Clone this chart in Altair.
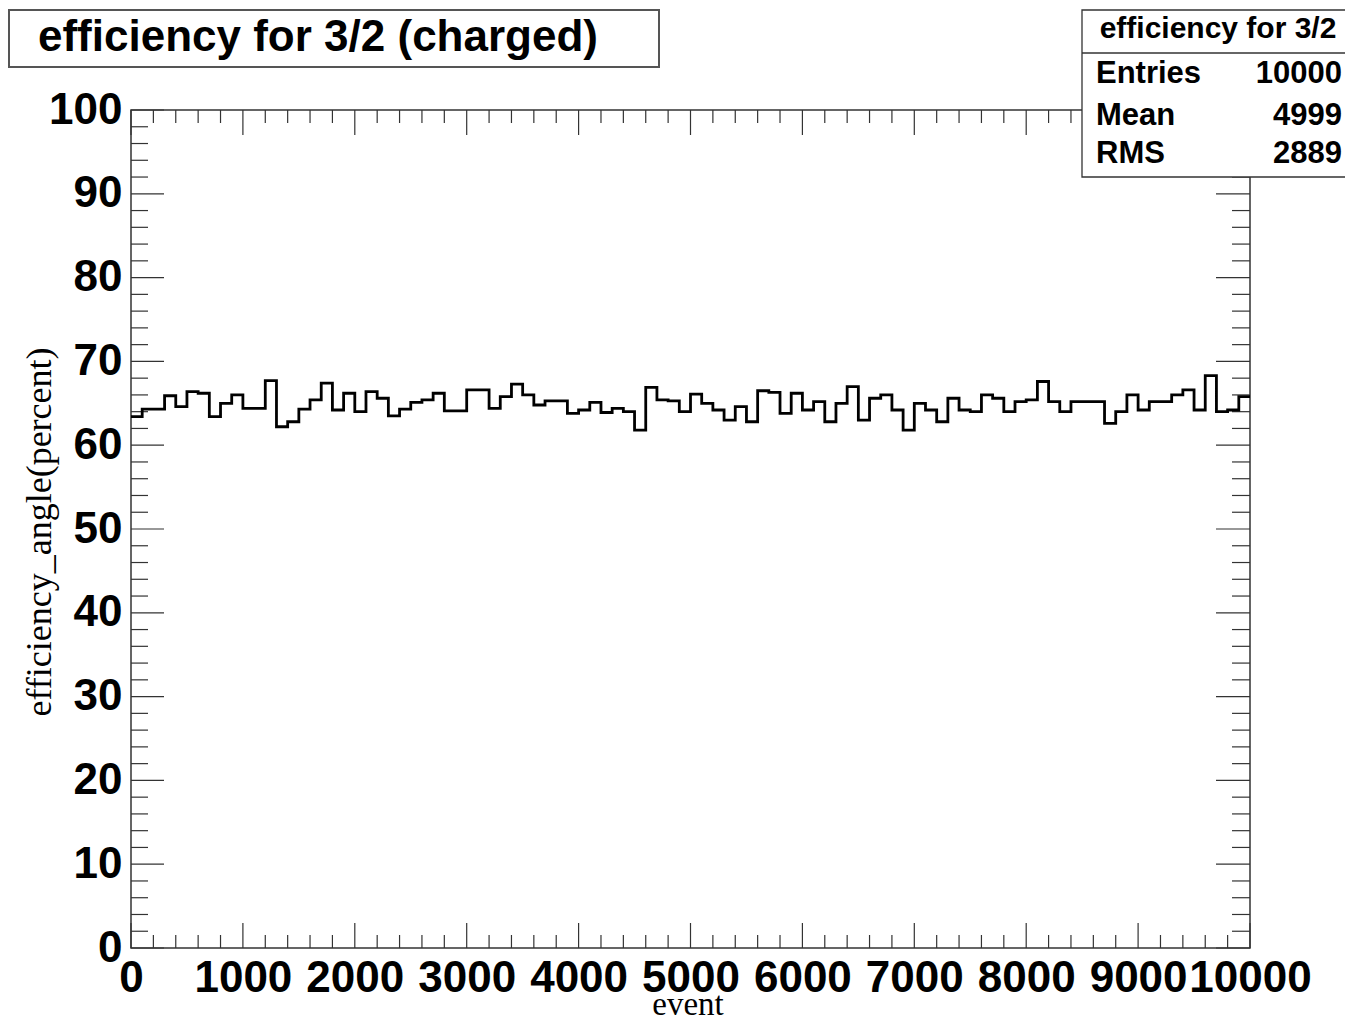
import altair as alt
import pandas as pd

# ---------------- data ----------------
bin_edges = list(range(0, 10001, 100))  # 100 bins of 100 events
efficiency = [
    63.4, 64.3, 64.3, 65.9, 64.6, 66.4, 66.2, 63.4, 65.0, 66.0,
    64.4, 64.4, 67.7, 62.2, 62.8, 64.3, 65.4, 67.4, 64.2, 66.2,
    64.0, 66.4, 65.6, 63.5, 64.3, 65.1, 65.4, 66.2, 64.1, 64.1,
    66.6, 66.6, 64.4, 65.8, 67.3, 66.0, 64.8, 65.3, 65.3, 63.8,
    64.2, 65.1, 63.9, 64.4, 64.0, 61.8, 66.9, 65.4, 65.3, 64.0,
    66.1, 65.0, 64.2, 63.0, 64.6, 62.8, 66.5, 66.3, 63.8, 66.2,
    64.2, 65.2, 62.8, 65.0, 67.0, 63.0, 65.6, 66.0, 64.2, 61.8,
    65.0, 64.2, 62.8, 65.6, 64.2, 64.0, 66.0, 65.6, 64.0, 65.2,
    65.4, 67.6, 65.2, 64.0, 65.2, 65.2, 65.2, 62.6, 64.0, 66.0,
    64.2, 65.2, 65.2, 66.0, 66.6, 64.2, 68.3, 64.0, 64.2, 65.8,
]
y_major = list(range(0, 101, 10))
y_minor = [v for v in range(0, 101, 2) if v % 10]
x_major = list(range(0, 10001, 1000))
x_minor = [v for v in range(0, 10001, 200) if v % 1000]

title_text = "efficiency for 3/2 (charged)"
stats_header = "efficiency for 3/2"
stats_names = ["Entries", "Mean", "RMS"]
stats_values = ["10000", "4999", "2889"]
x_title = "event"
y_title = "efficiency_angle(percent)"

# ---------------- layout ----------------
W, H = 1119, 838
FRAME = "#333333"
SANS = "Liberation Sans"
SERIF = "Liberation Serif"

XS = alt.Scale(domain=[0, 10000], nice=False, zero=False)
YS = alt.Scale(domain=[0, 100], nice=False, zero=False)

x_axis = alt.Axis(values=x_major, format="d", labelFont=SANS, labelFontWeight="bold",
                  labelFontSize=44, labelColor="black", labelPadding=8,
                  labelOverlap=False, labelFlush=False, labelBound=False,
                  ticks=False, domain=False, grid=False, title=None)
y_axis = alt.Axis(values=y_major, format="d", labelFont=SANS, labelFontWeight="bold",
                  labelFontSize=44, labelColor="black", labelPadding=9,
                  labelOverlap=False, labelFlush=False, labelBound=False,
                  ticks=False, domain=False, grid=False, title=None)

hist = pd.DataFrame({"event": bin_edges, "eff": efficiency + [efficiency[-1]]})
one = pd.DataFrame({"k": [0]})

layers = []

# frame
layers.append(alt.Chart(one).mark_rect(fillOpacity=0, stroke=FRAME, strokeWidth=1.5).encode(
    x=alt.value(0), x2=alt.value(W), y=alt.value(0), y2=alt.value(H)))

# inward ticks on all four sides
def yticks(vals, length):
    df = pd.DataFrame({"eff": vals})
    left = alt.Chart(df).mark_rule(color=FRAME, strokeWidth=1.2).encode(
        y=alt.Y("eff:Q", scale=YS, axis=y_axis), x=alt.value(0), x2=alt.value(length))
    right = alt.Chart(df).mark_rule(color=FRAME, strokeWidth=1.2).encode(
        y=alt.Y("eff:Q", scale=YS, axis=y_axis), x=alt.value(W), x2=alt.value(W - length - 1))
    return [left, right]

def xticks(vals, length):
    df = pd.DataFrame({"event": vals})
    bottom = alt.Chart(df).mark_rule(color=FRAME, strokeWidth=1.2).encode(
        x=alt.X("event:Q", scale=XS, axis=x_axis), y=alt.value(H), y2=alt.value(H - length))
    top = alt.Chart(df).mark_rule(color=FRAME, strokeWidth=1.2).encode(
        x=alt.X("event:Q", scale=XS, axis=x_axis), y=alt.value(0), y2=alt.value(length))
    return [bottom, top]

layers += yticks(y_major, 33)
layers += yticks(y_minor, 17)
layers += xticks(x_major, 25)
layers += xticks(x_minor, 13)

# histogram
layers.append(alt.Chart(hist).mark_line(interpolate="step-after", color="black", strokeWidth=2.8).encode(
    x=alt.X("event:Q", scale=XS, axis=x_axis),
    y=alt.Y("eff:Q", scale=YS, axis=y_axis)))

# title box
layers.append(alt.Chart(one).mark_rect(fill="white", stroke="#555555", strokeWidth=2).encode(
    x=alt.value(-122), x2=alt.value(528), y=alt.value(-100), y2=alt.value(-43)))
layers.append(alt.Chart(pd.DataFrame({"t": [title_text]})).mark_text(
    font=SANS, fontWeight="bold", fontSize=44, align="left", baseline="alphabetic", color="black").encode(
    text="t:N", x=alt.value(-93), y=alt.value(-59)))

# stats box
layers.append(alt.Chart(one).mark_rect(fill="white", stroke=FRAME, strokeWidth=1.3).encode(
    x=alt.value(951), x2=alt.value(1240), y=alt.value(-100), y2=alt.value(67)))
layers.append(alt.Chart(one).mark_rule(color=FRAME, strokeWidth=1.3).encode(
    x=alt.value(951), x2=alt.value(1240), y=alt.value(-57)))
layers.append(alt.Chart(pd.DataFrame({"t": [stats_header]})).mark_text(
    font=SANS, fontWeight="bold", fontSize=30, align="center", baseline="alphabetic", color="black").encode(
    text="t:N", x=alt.value(1087), y=alt.value(-72)))
row_y = [-27, 15, 53]
for i in range(len(stats_names)):
    layers.append(alt.Chart(pd.DataFrame({"t": [stats_names[i]]})).mark_text(
        font=SANS, fontWeight="bold", fontSize=31, align="left", baseline="alphabetic", color="black").encode(
        text="t:N", x=alt.value(965), y=alt.value(row_y[i])))
    layers.append(alt.Chart(pd.DataFrame({"t": [stats_values[i]]})).mark_text(
        font=SANS, fontWeight="bold", fontSize=31, align="right", baseline="alphabetic", color="black").encode(
        text="t:N", x=alt.value(1211), y=alt.value(row_y[i])))

# axis titles
layers.append(alt.Chart(pd.DataFrame({"t": [y_title]})).mark_text(
    font=SERIF, fontSize=36, angle=270, align="center", baseline="middle", color="black").encode(
    text="t:N", x=alt.value(-91), y=alt.value(422)))
layers.append(alt.Chart(pd.DataFrame({"t": [x_title]})).mark_text(
    font=SERIF, fontSize=33, align="center", baseline="alphabetic", color="black").encode(
    text="t:N", x=alt.value(557), y=alt.value(905)))

chart = alt.layer(*layers).properties(
    width=W, height=H,
    padding={"left": 123, "top": 102, "right": 95, "bottom": 72},
    autosize=alt.AutoSizeParams(type="none"),
    background="white",
).configure_view(stroke=None)

chart.save("out.html", embed_options={"renderer": "svg", "actions": False})
